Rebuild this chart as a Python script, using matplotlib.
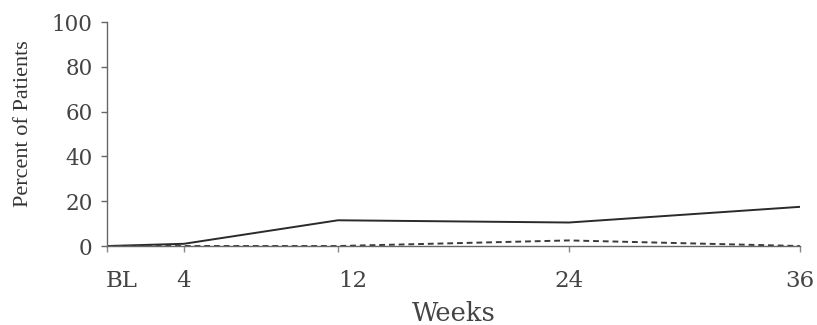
import matplotlib
matplotlib.use("Agg")
import matplotlib.pyplot as plt
from matplotlib.transforms import ScaledTranslation

weeks = [0, 4, 12, 24, 36]
week_labels = ["BL", "4", "12", "24", "36"]
solid_series = [0, 1, 11.5, 10.5, 17.5]
dashed_series = [0, 0, 0, 2.5, 0]
yticks = [0, 20, 40, 60, 80, 100]

plt.rcParams['font.family'] = ['DejaVu Serif']

fig = plt.figure(figsize=(8.17, 3.25), dpi=100)
ax = fig.add_axes([0.131, 0.243, 0.848, 0.689])

ax.plot(weeks, solid_series, color='#2a2a2a', lw=1.4, solid_capstyle='round')
ax.plot(weeks, dashed_series, color='#3a3a3a', lw=1.4, ls=(0, (3, 2)))

ax.set_xlim(0, 36)
ax.set_ylim(0, 100)
ax.set_xticks(weeks)
ax.set_xticklabels(week_labels)
ax.set_yticks(yticks)

for s in ['top', 'right']:
    ax.spines[s].set_visible(False)
for s in ['left', 'bottom']:
    ax.spines[s].set_color('#666666')
    ax.spines[s].set_linewidth(1.0)

ax.tick_params(axis='y', direction='out', length=4.3, width=1, colors='#666666',
               labelsize=15.5, labelcolor='#444444', pad=6)
ax.tick_params(axis='x', direction='out', length=4, width=1, colors='#888888',
               labelsize=16.5, labelcolor='#444444', pad=13)

# small horizontal offsets seen in the scanned original
shift = ScaledTranslation(15 / 100, 0, fig.dpi_scale_trans)
for i, lbl in enumerate(ax.get_xticklabels()):
    if week_labels[i] in ("BL", "12"):
        lbl.set_transform(lbl.get_transform() + shift)

ax.set_ylabel("Percent of Patients", fontsize=16, color='#333333',
              family=['Liberation Serif', 'DejaVu Serif'])
ax.yaxis.set_label_coords(-0.121, 0.545)
ax.yaxis.label.set_va('center')
ax.set_xlabel("Weeks", fontsize=18.5, color='#444444')
ax.xaxis.set_label_coords(0.5, -0.245)
ax.xaxis.label.set_va('top')

fig.savefig("out.png", dpi=100)
